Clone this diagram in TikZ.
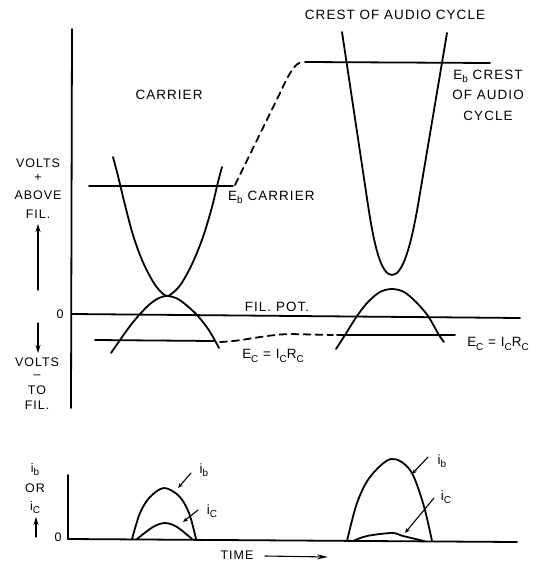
\documentclass[tikz,border=0pt]{standalone}
\usepackage{fontspec}
\setmainfont{Liberation Sans}
\usetikzlibrary{arrows.meta}
\newcommand{\lsub}[1]{\raisebox{-0.45ex}{\fontsize{10}{10}\selectfont #1}}
\begin{document}
\begin{tikzpicture}[x=1bp,y=-1bp,line cap=round,line join=round,
  curve/.style={line width=1.8pt},
  axisline/.style={line width=1.8pt},
  dashline/.style={line width=1.8pt,dash pattern=on 7bp off 5bp},
  leader/.style={line width=1.1pt,-{Stealth[length=5bp,width=4bp]}},
  vecarrow/.style={line width=1.1pt,-{Stealth[length=8bp,width=5bp]}},
  lbl/.style={inner sep=0pt,font=\fontsize{13.5}{15}\selectfont\addfontfeature{LetterSpace=8}},
  slbl/.style={inner sep=0pt,font=\fontsize{12.5}{15}\selectfont\addfontfeature{LetterSpace=8}}]
\useasboundingbox (0,0) rectangle (538,564);

% ---------- upper graph: axes ----------
\draw[axisline] (72,29) -- (71,408);
\draw[axisline] (72,314) -- (520,318);

% E_b lines
\draw[axisline] (89,186) -- (233,186);
\draw[dashline] (235,185) -- (280,93) .. controls (289,74) and (295,62) .. (303,62);
\draw[axisline] (305,62) -- (490,63);

% E_c lines
\draw[axisline] (95,340) -- (214,341);
\draw[dashline] (220,342) .. controls (245,341) and (262,335) .. (290,334) -- (333,335);
\draw[axisline] (337,335) -- (455,335);

% carrier plate curve
\draw[curve] plot[smooth, tension=0.55] coordinates {(113,157) (118,176) (125,205) (133,235) (142,260) (152,280) (160,291) (167,296) (175,291) (183,281) (193,262) (203,237) (212,207) (218,182) (222,167)};
% carrier grid curve
\draw[curve] plot[smooth, tension=0.55] coordinates {(111,353) (120,340) (130,326) (140,314) (150,304) (159,298) (167,296) (176,298) (185,304) (196,314) (206,326) (213,337) (219,348)};

% audio crest plate curve
\draw[curve] (342,32) -- (368,205) .. controls (374,245) and (381,275) .. (392,275)
  .. controls (403,275) and (411,245) .. (418,205) -- (447,33);
% audio crest grid curve
\draw[curve] plot[smooth, tension=0.55] coordinates {(336,349) (345,335) (357,316) (368,302) (380,292) (392,289) (404,292) (416,302) (428,316) (439,335) (444,342)};

% ---------- upper labels ----------
\node[lbl] (carrier) at (169,95) {CARRIER};
\node[lbl] (crest) at (395,15) {CREST OF AUDIO CYCLE};
\node[lbl,align=center,font=\fontsize{13.5}{20.5}\selectfont\addfontfeature{LetterSpace=8}] (ebcrest) at (488,95) {E\lsub{b} CREST\\OF AUDIO\\CYCLE};
\node[lbl,anchor=west] (ebcarrier) at (228,197) {E\lsub{b} CARRIER};
\node[lbl] (filpot) at (277,307) {FIL. POT.};
\node[lbl] (ecA) at (273,356) {E\lsub{C} = I\lsub{C}R\lsub{C}};
\node[lbl] (ecB) at (498,344) {E\lsub{C} = I\lsub{C}R\lsub{C}};

\node[slbl] (v1) at (38,163) {VOLTS};
\node[slbl] (v2) at (38,178) {+};
\node[slbl] (v3) at (38,195) {ABOVE};
\node[slbl] (v4) at (38,214) {FIL.};
\node[slbl] (zeroA) at (60,314) {0};
\node[slbl] (w1) at (37,362) {VOLTS};
\node[slbl] (w2) at (37,377) {–};
\node[slbl] (w3) at (37,390) {TO};
\node[slbl] (w4) at (37,405) {FIL.};

\coordinate (upS) at (38,290);
\coordinate (upE) at (38,224);
\draw[vecarrow] (upS) -- (upE);
\coordinate (dnS) at (38,323);
\coordinate (dnE) at (38,353);
\draw[vecarrow] (dnS) -- (dnE);

% ---------- lower graph ----------
\draw[axisline] (68,475) -- (68,539);
\draw[axisline] (68,539) -- (517,542);

% carrier pulses
\draw[curve] plot[smooth, tension=0.55] coordinates {(132,539) (140,513) (150,497) (164,488) (179,496) (189,513) (196,539)};
\draw[curve] plot[smooth, tension=0.55] coordinates {(137,539) (153,527) (165,523) (177,527) (192,539)};
% audio pulses
\draw[curve] plot[smooth, tension=0.55] coordinates {(347,541) (357,503) (370,477) (391,459) (410,470) (423,503) (432,541)};
\draw[curve] plot[smooth, tension=0.55] coordinates {(353,541) (367,536) (392,533) (403,536) (424,541)};

% lower labels
\node[slbl] (ibL) at (35,470) {i\lsub{b}};
\node[slbl] (orL) at (35,488) {OR};
\node[slbl] (icL) at (35,508) {i\lsub{C}};
\node[slbl] (zeroB) at (58,537) {0};
\coordinate (ibarS) at (36,537);
\coordinate (ibarE) at (36,517);
\draw[vecarrow] (ibarS) -- (ibarE);

\node[lbl] (ibA) at (204,470) {i\lsub{b}};
\node[lbl] (icA) at (212,511) {i\lsub{C}};
\node[lbl] (ibB) at (442,461) {i\lsub{b}};
\node[lbl] (icB) at (446,497) {i\lsub{C}};

\coordinate (ibAs) at (191,473);
\coordinate (ibAe) at (178,488);
\draw[leader] (ibAs) -- (ibAe);
\coordinate (icAs) at (198,510);
\coordinate (icAe) at (183,522);
\draw[leader] (icAs) -- (icAe);
\coordinate (ibBs) at (428,457);
\coordinate (ibBe) at (412,474);
\draw[leader] (ibBs) -- (ibBe);
\coordinate (icBs) at (434,498);
\coordinate (icBe) at (405,533);
\draw[leader] (icBs) -- (icBe);

\node[slbl] (time) at (237,555) {TIME};
\coordinate (tS) at (265,556);
\coordinate (tE) at (328,557);
\draw[line width=1.1pt,-{Stealth[length=11bp,width=5bp]}] (tS) -- (tE);
\end{tikzpicture}
\end{document}
